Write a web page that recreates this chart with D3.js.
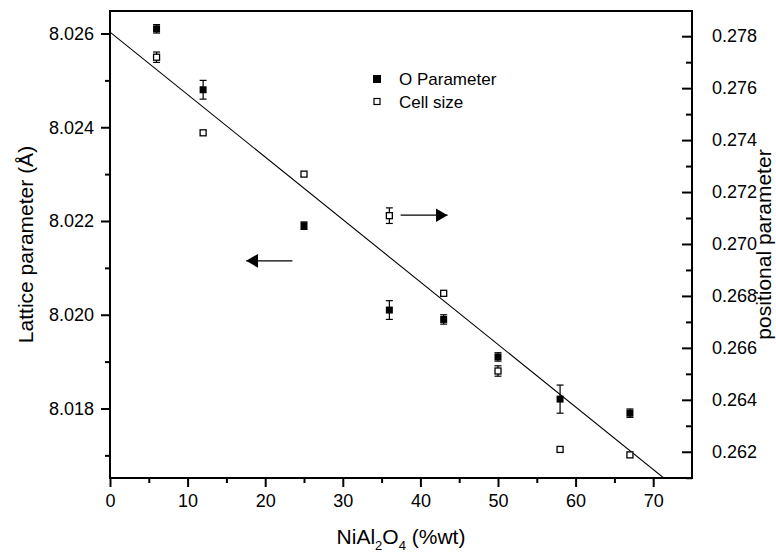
<!DOCTYPE html>
<html>
<head>
<meta charset="utf-8">
<script src="https://cdn.jsdelivr.net/npm/d3@7"></script>
<style>
  body { margin: 0; background: #fff; }
  text { font-family: "Liberation Sans", Arial, sans-serif; fill: #000; }
</style>
</head>
<body>
<div id="chart"></div>
<script>
// data
var pct = [6, 12, 25, 36, 43, 50, 58, 67]
var oParam = [8.0261, 8.0248, 8.0219, 8.0201, 8.0199, 8.0191, 8.0182, 8.0179]
var oErr = [0.00009, 0.0002, 0.00008, 0.0002, 0.0001, 0.00009, 0.0003, 0.00009]
var cellSize = [0.27719, 0.27428, 0.27269, 0.27109, 0.2681, 0.26511, 0.26209, 0.26188]
var cellErr = [0.0002, 0, 0, 0.0003, 0, 0.0002, 0, 0]

// linear fit (left axis)
var fitIntercept = 8.02603
var fitSlope = -0.0001333

var xTicks = [0, 10, 20, 30, 40, 50, 60, 70]
var leftTicks = [8.018, 8.020, 8.022, 8.024, 8.026]
var rightTicks = [0.262, 0.264, 0.266, 0.268, 0.270, 0.272, 0.274, 0.276, 0.278]

var W = 776, H = 556
var pLeft = 110, pRight = 692, pTop = 11, pBottom = 478

var svg = d3.select("#chart").append("svg")
    .attr("width", W)
    .attr("height", H)

var x = d3.scaleLinear().domain([0, 75]).range([pLeft, pRight])
var yL = d3.scaleLinear().domain([8.016517, 8.02648]).range([pBottom, pTop])
var yR = d3.scaleLinear().domain([0.26099, 0.27897]).range([pBottom, pTop])

function styleAxis(g) {
    g.select(".domain").remove()
    g.selectAll(".tick line").attr("stroke", "#000").attr("stroke-width", 2)
    g.selectAll(".tick text").style("font-size", "18px").style("font-family", "Liberation Sans, Arial, sans-serif")
}

// minor ticks
svg.append("g")
    .attr("transform", `translate(0,${pBottom})`)
    .call(d3.axisBottom(x).tickValues(d3.range(5, 75, 10)).tickSize(5).tickFormat(""))
    .call(styleAxis)
svg.append("g")
    .attr("transform", `translate(${pLeft},0)`)
    .call(d3.axisLeft(yL).tickValues([8.017, 8.019, 8.021, 8.023, 8.025]).tickSize(5).tickFormat(""))
    .call(styleAxis)
svg.append("g")
    .attr("transform", `translate(${pRight},0)`)
    .call(d3.axisRight(yR).tickValues([0.261, 0.263, 0.265, 0.267, 0.269, 0.271, 0.273, 0.275, 0.277]).tickSize(-6).tickFormat(""))
    .call(styleAxis)

// major ticks
svg.append("g")
    .attr("transform", `translate(0,${pBottom})`)
    .call(d3.axisBottom(x).tickValues(xTicks).tickSize(9).tickPadding(7).tickFormat(d3.format("d")))
    .call(styleAxis)
svg.append("g")
    .attr("transform", `translate(${pLeft},0)`)
    .call(d3.axisLeft(yL).tickValues(leftTicks).tickSize(9).tickPadding(7).tickFormat(d3.format(".3f")))
    .call(styleAxis)
svg.append("g")
    .attr("transform", `translate(${pRight},0)`)
    .call(d3.axisRight(yR).tickValues(rightTicks).tickSize(-10).tickPadding(20).tickFormat(d3.format(".3f")))
    .call(styleAxis)

// frame
svg.append("rect")
    .attr("x", pLeft).attr("y", pTop)
    .attr("width", pRight - pLeft).attr("height", pBottom - pTop)
    .attr("fill", "none").attr("stroke", "#000").attr("stroke-width", 2)

// fit line, clipped to the plot area
svg.append("clipPath").attr("id", "clip")
    .append("rect").attr("x", pLeft).attr("y", pTop)
    .attr("width", pRight - pLeft).attr("height", pBottom - pTop)

var line = d3.line().x(d => x(d)).y(d => yL(fitIntercept + fitSlope * d))
svg.append("path")
    .datum([0, 75])
    .attr("d", line)
    .attr("clip-path", "url(#clip)")
    .attr("fill", "none").attr("stroke", "#000").attr("stroke-width", 1.1)

// error bars
function errorBars(vals, errs, y) {
    var g = svg.append("g").attr("stroke", "#000").attr("stroke-width", 1.2)
    pct.forEach(function (p, i) {
        if (!errs[i]) return
        var cx = x(p), y0 = y(vals[i] - errs[i]), y1 = y(vals[i] + errs[i])
        g.append("line").attr("x1", cx).attr("x2", cx).attr("y1", y0).attr("y2", y1)
        g.append("line").attr("x1", cx - 3.5).attr("x2", cx + 3.5).attr("y1", y0).attr("y2", y0)
        g.append("line").attr("x1", cx - 3.5).attr("x2", cx + 3.5).attr("y1", y1).attr("y2", y1)
    })
}
errorBars(oParam, oErr, yL)
errorBars(cellSize, cellErr, yR)

// markers
svg.append("g").selectAll("rect")
    .data(pct)
    .join("rect")
    .attr("x", (d) => x(d) - 3.5)
    .attr("y", (d, i) => yL(oParam[i]) - 3.5)
    .attr("width", 7).attr("height", 7)
    .attr("fill", "#000")

svg.append("g").selectAll("rect")
    .data(pct)
    .join("rect")
    .attr("x", (d) => x(d) - 3)
    .attr("y", (d, i) => yR(cellSize[i]) - 3)
    .attr("width", 6).attr("height", 6)
    .attr("fill", "#fff").attr("stroke", "#000").attr("stroke-width", 1.3)

// arrows
svg.append("defs").append("marker")
    .attr("id", "head")
    .attr("viewBox", "0 0 12 14")
    .attr("refX", 12).attr("refY", 7)
    .attr("markerWidth", 12).attr("markerHeight", 14)
    .attr("markerUnits", "userSpaceOnUse")
    .attr("orient", "auto")
    .append("path").attr("d", "M0,0 L12,7 L0,14 Z").attr("fill", "#000")

svg.append("line")
    .attr("x1", x(23.5)).attr("x2", x(17.55))
    .attr("y1", yL(8.02115)).attr("y2", yL(8.02115))
    .attr("stroke", "#000").attr("stroke-width", 1.3)
    .attr("marker-end", "url(#head)")
svg.append("line")
    .attr("x1", x(37.45)).attr("x2", x(43.5))
    .attr("y1", yR(0.27111)).attr("y2", yR(0.27111))
    .attr("stroke", "#000").attr("stroke-width", 1.3)
    .attr("marker-end", "url(#head)")

// legend
var legend = svg.append("g").attr("transform", "translate(377,79)")
legend.append("rect").attr("x", -4).attr("y", -4).attr("width", 8).attr("height", 8).attr("fill", "#000")
legend.append("rect").attr("x", -3).attr("y", 19.5).attr("width", 6).attr("height", 6)
    .attr("fill", "#fff").attr("stroke", "#000").attr("stroke-width", 1.2)
legend.append("text").attr("x", 22).attr("y", 6).style("font-size", "17px").text("O Parameter")
legend.append("text").attr("x", 22).attr("y", 29).style("font-size", "17px").text("Cell size")

// axis titles
var xt = svg.append("text")
    .attr("x", (pLeft + pRight) / 2).attr("y", 544)
    .attr("text-anchor", "middle")
    .style("font-size", "21px")
xt.append("tspan").text("NiAl")
xt.append("tspan").attr("dy", 6).style("font-size", "13px").text("2")
xt.append("tspan").attr("dy", -6).text("O")
xt.append("tspan").attr("dy", 6).style("font-size", "13px").text("4")
xt.append("tspan").attr("dy", -6).text(" (%wt)")

svg.append("text")
    .attr("transform", `translate(33,${(pTop + pBottom) / 2}) rotate(-90)`)
    .attr("text-anchor", "middle")
    .style("font-size", "21px")
    .text("Lattice parameter (Å)")

svg.append("text")
    .attr("transform", `translate(771,${(pTop + pBottom) / 2}) rotate(-90)`)
    .attr("text-anchor", "middle")
    .style("font-size", "21px")
    .text("positional parameter")
</script>
</body>
</html>
